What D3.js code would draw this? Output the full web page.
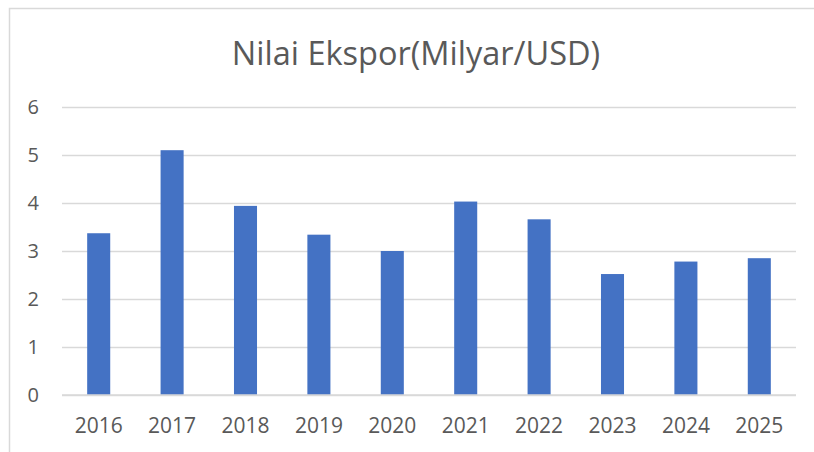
<!DOCTYPE html>
<html>
<head>
<meta charset="utf-8">
<script src="https://cdn.jsdelivr.net/npm/d3@7"></script>
<style>
  body { margin: 0; background: #fff; }
  text { font-family: "Open Sans", "Noto Sans", sans-serif; fill: #595959; }
  .axis .domain { display: none; }
  .axis line { stroke: #d9d9d9; stroke-width: 1.5; }
</style>
</head>
<body>
<svg id="chart"></svg>
<script>
// data
const years = ["2016", "2017", "2018", "2019", "2020", "2021", "2022", "2023", "2024", "2025"];
const values = [3.37, 5.10, 3.94, 3.34, 3.0, 4.03, 3.66, 2.52, 2.78, 2.85];
const yTicks = [0, 1, 2, 3, 4, 5, 6];

const width = 814, height = 452;
const margin = {top: 107, right: 18, bottom: 57, left: 62};
const innerW = width - margin.left - margin.right;
const innerH = height - margin.top - margin.bottom;

const svg = d3.select('#chart')
    .attr('width', width)
    .attr('height', height);

// chart frame
svg.append('rect')
    .attr('x', 9.5)
    .attr('y', 8.5)
    .attr('width', 820)
    .attr('height', 460)
    .attr('fill', 'none')
    .attr('stroke', '#d9d9d9')
    .attr('stroke-width', 1.5);

svg.append('text')
    .attr('x', 416)
    .attr('y', 65)
    .attr('text-anchor', 'middle')
    .style('font-size', '32.5px')
    .text('Nilai Ekspor(Milyar/USD)');

const chart = svg.append('g')
    .attr('transform', `translate(${margin.left},${margin.top})`);

// scales
const x = d3.scaleBand()
    .domain(years)
    .range([0, innerW])
    .paddingInner(0.686)
    .paddingOuter(0.343);

const y = d3.scaleLinear()
    .domain([0, 6])
    .range([innerH, 0]);

// gridlines + y labels
chart.append('g')
    .attr('class', 'axis y-axis')
    .call(d3.axisLeft(y).tickValues(yTicks).tickSize(-innerW).tickPadding(23).tickFormat(d3.format('d')))
    .call(g => g.selectAll('text').style('font-size', '20px'));

chart.selectAll('.bar')
    .data(values)
    .join('rect')
    .attr('class', 'bar')
    .attr('x', (d, i) => x(years[i]))
    .attr('y', d => y(d))
    .attr('width', x.bandwidth())
    .attr('height', d => innerH - y(d))
    .attr('fill', '#4472c4');

// x axis labels
chart.append('g')
    .attr('class', 'axis x-axis')
    .attr('transform', `translate(0,${innerH})`)
    .call(d3.axisBottom(x).tickSize(0).tickPadding(23))
    .call(g => g.selectAll('text').style('font-size', '21px'));

// baseline drawn above bars
chart.append('line')
    .attr('x1', 0).attr('x2', innerW)
    .attr('y1', innerH).attr('y2', innerH)
    .attr('stroke', '#d9d9d9')
    .attr('stroke-width', 1.5);
</script>
</body>
</html>
